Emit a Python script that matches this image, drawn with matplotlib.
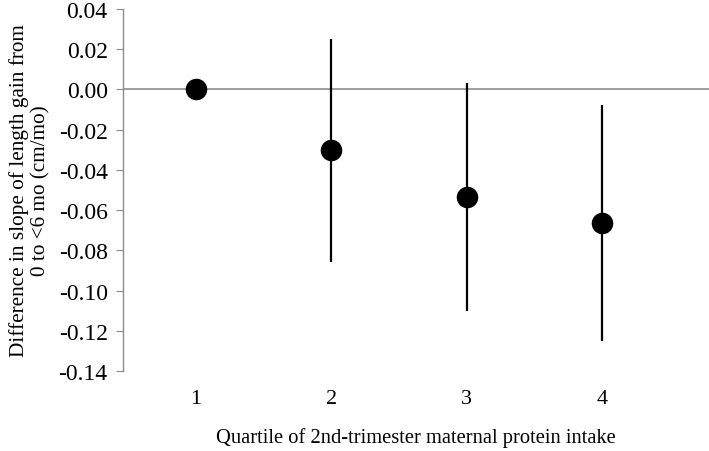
import matplotlib
matplotlib.use("Agg")
import matplotlib.pyplot as plt

quartiles = [1, 2, 3, 4]
estimate = [0.000, -0.030, -0.0535, -0.0665]
ci_low = [0.000, -0.086, -0.110, -0.125]
ci_high = [0.000, 0.0253, 0.0032, -0.0078]

plt.rcParams['font.family'] = ['Liberation Serif', 'DejaVu Serif']

fig = plt.figure(figsize=(7.09, 4.52), dpi=100)
ax = fig.add_axes([0.1735, 0.177, 0.8265, 0.801])

err_lo = [e - l for e, l in zip(estimate, ci_low)]
err_hi = [h - e for e, h in zip(estimate, ci_high)]

ax.axhline(0, color='#8c8c8c', lw=1.2, zorder=1)
ax.errorbar(quartiles, estimate, yerr=[err_lo, err_hi], fmt='o', color='black',
            ecolor='black', elinewidth=1.6, capsize=0, markersize=14.5, zorder=3)

ax.set_xlim(0.463, 4.79)
ax.set_ylim(-0.14, 0.04)
ax.set_yticks([0.04 - 0.02 * i for i in range(10)])
ax.set_yticklabels(['%.2f' % (0.04 - 0.02 * i) for i in range(10)])
ax.set_xticks(quartiles)

for s in ['top', 'right', 'bottom']:
    ax.spines[s].set_visible(False)
ax.spines['left'].set_color('#8c8c8c')
ax.spines['left'].set_linewidth(1.0)
ax.tick_params(axis='y', length=5, color='#8c8c8c', labelsize=17, pad=6)
ax.tick_params(axis='x', length=0, labelsize=16, pad=13)

ax.set_xlabel('Quartile of 2nd-trimester maternal protein intake', fontsize=14.8, labelpad=14)
ax.set_ylabel('Difference in slope of length gain from\n0 to <6 mo (cm/mo)', fontsize=15.3,
              linespacing=1.12, labelpad=6)

fig.savefig('out.png', dpi=100)
